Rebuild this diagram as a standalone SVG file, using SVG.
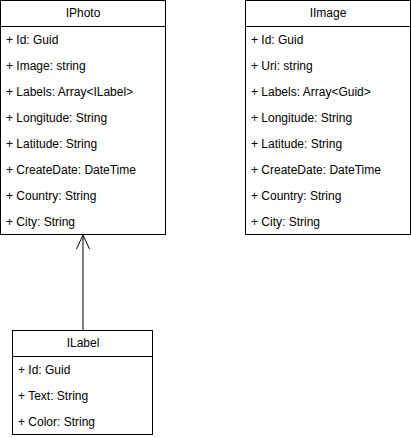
<svg xmlns="http://www.w3.org/2000/svg" width="411" height="438" viewBox="0 0 411 438">
<style>
.box{fill:#fff;stroke:#000;stroke-width:1}
.t{font-family:"Liberation Sans",Arial,sans-serif;font-size:12px;fill:#000}
.h{text-anchor:middle}
.c{fill:none;stroke:#000;stroke-width:1}
</style>
<rect width="411" height="438" fill="#fff"/>
<g id="connectors">
<path class="c" d="M83 330 V236"/>
<path class="c" d="M76.5 249 L83 235 L89.5 249"/>
</g>
<g id="IPhoto">
<rect class="box" x="0.5" y="0.5" width="165" height="234"/>
<line class="c" x1="0.5" y1="26.5" x2="165.5" y2="26.5"/>
<text class="t h" x="83" y="17">IPhoto</text>
<text class="t" x="6" y="44">+ Id: Guid</text>
<text class="t" x="6" y="70">+ Image: string</text>
<text class="t" x="6" y="96">+ Labels: Array&lt;ILabel&gt;</text>
<text class="t" x="6" y="122">+ Longitude: String</text>
<text class="t" x="6" y="148">+ Latitude: String</text>
<text class="t" x="6" y="174">+ CreateDate: DateTime</text>
<text class="t" x="6" y="200">+ Country: String</text>
<text class="t" x="6" y="226">+ City: String</text>
</g>
<g id="IImage">
<rect class="box" x="245.5" y="0.5" width="165" height="234"/>
<line class="c" x1="245.5" y1="26.5" x2="410.5" y2="26.5"/>
<text class="t h" x="328" y="17">IImage</text>
<text class="t" x="251" y="44">+ Id: Guid</text>
<text class="t" x="251" y="70">+ Uri: string</text>
<text class="t" x="251" y="96">+ Labels: Array&lt;Guid&gt;</text>
<text class="t" x="251" y="122">+ Longitude: String</text>
<text class="t" x="251" y="148">+ Latitude: String</text>
<text class="t" x="251" y="174">+ CreateDate: DateTime</text>
<text class="t" x="251" y="200">+ Country: String</text>
<text class="t" x="251" y="226">+ City: String</text>
</g>
<g id="ILabel">
<rect class="box" x="12.5" y="330.5" width="140" height="104"/>
<line class="c" x1="12.5" y1="356.5" x2="152.5" y2="356.5"/>
<text class="t h" x="83" y="347">ILabel</text>
<text class="t" x="18" y="374">+ Id: Guid</text>
<text class="t" x="18" y="400">+ Text: String</text>
<text class="t" x="18" y="426">+ Color: String</text>
</g>
</svg>
